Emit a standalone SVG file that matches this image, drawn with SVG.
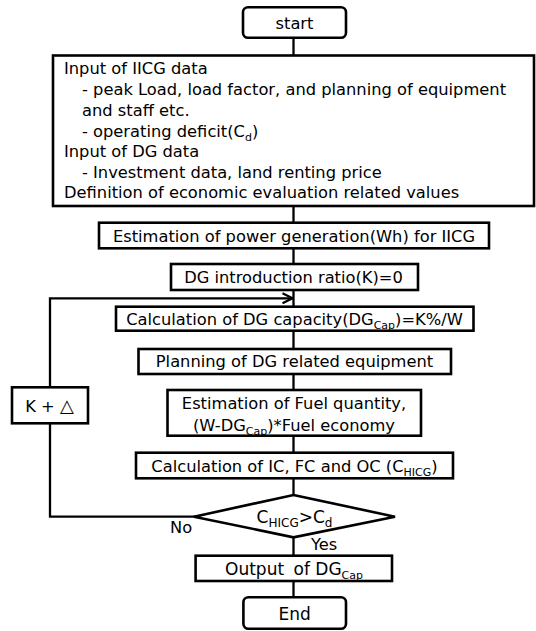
<svg xmlns="http://www.w3.org/2000/svg" width="536" height="631" viewBox="0 0 536 631">
<defs>
<style>
text{font-family:"DejaVu Sans","Liberation Sans",sans-serif;font-size:16.3px;fill:#000}
.c{text-anchor:middle}
.box{fill:#fff;stroke:#000;stroke-width:2.6}
.ln{fill:none;stroke:#000;stroke-width:2.3}
.sub{font-size:11px}
.big{font-size:17px}
.bsub{font-size:12px}
</style>
<marker id="arr" viewBox="0 0 12 12" refX="11" refY="6" markerWidth="12" markerHeight="12" markerUnits="userSpaceOnUse" orient="auto">
<path d="M1,1 L11,6 L1,11" fill="none" stroke="#000" stroke-width="2.2"/>
</marker>
</defs>
<rect width="536" height="631" fill="#fff"/>
<g id="connectors">
<line class="ln" x1="293.5" y1="37.7" x2="293.5" y2="55.5"/>
<line class="ln" x1="293.5" y1="206" x2="293.5" y2="222.7"/>
<line class="ln" x1="293.5" y1="248.3" x2="293.5" y2="264"/>
<line class="ln" x1="293.5" y1="290" x2="293.5" y2="306.7"/>
<line class="ln" x1="293.5" y1="330.7" x2="293.5" y2="349"/>
<line class="ln" x1="293.5" y1="374" x2="293.5" y2="390"/>
<line class="ln" x1="293.5" y1="435.7" x2="293.5" y2="452.7"/>
<line class="ln" x1="293.5" y1="478.3" x2="293.5" y2="495"/>
<line class="ln" x1="293.5" y1="537.3" x2="293.5" y2="555.7"/>
<line class="ln" x1="293.5" y1="581" x2="293.5" y2="597.3"/>
<polyline class="ln" points="195,516.7 50,516.7 50,423.3"/>
<polyline class="ln" points="50,387.3 50,298.3 292.5,298.3" marker-end="url(#arr)"/>
<text x="170" y="532.7">No</text>
<text x="311" y="550">Yes</text>
</g>
<g id="start">
<rect class="box" x="243" y="7.3" width="103" height="30.4" rx="5"/>
<text class="c" x="294.5" y="29.3">start</text>
</g>
<g id="input">
<rect class="box" x="53" y="55.5" width="481" height="150.5"/>
<text x="64" y="74">Input of IICG data</text>
<text x="82" y="95">- peak Load, load factor, and planning of equipment</text>
<text x="82" y="115.5">and staff etc.</text>
<text x="82" y="136.5">- operating deficit(C<tspan class="sub" dy="4">d</tspan><tspan dy="-4">)</tspan></text>
<text x="64" y="157">Input of DG data</text>
<text x="82" y="177.7">- Investment data, land renting price</text>
<text x="64" y="198.3">Definition of economic evaluation related values</text>
</g>
<g id="estimation">
<rect class="box" x="99" y="222.7" width="390" height="25.6"/>
<text class="c" x="294" y="241.7">Estimation of power generation(Wh) for IICG</text>
</g>
<g id="ratio">
<rect class="box" x="171" y="264" width="247" height="26"/>
<text class="c" x="293.5" y="282.7">DG introduction ratio(K)=0</text>
</g>
<g id="capacity">
<rect class="box" x="116" y="306.7" width="357.5" height="24"/>
<text class="c" x="294.5" y="325">Calculation of DG capacity(DG<tspan class="sub" dy="4">Cap</tspan><tspan dy="-4">)=K%/W</tspan></text>
</g>
<g id="planning">
<rect class="box" x="138.5" y="349" width="312.5" height="25"/>
<text class="c" x="294.5" y="366.7">Planning of DG related equipment</text>
</g>
<g id="fuel">
<rect class="box" x="167.5" y="390" width="253.5" height="45.7"/>
<text class="c" x="294" y="409">Estimation of Fuel quantity,</text>
<text class="c" x="294" y="430.5">(W-DG<tspan class="sub" dy="4">Cap</tspan><tspan dy="-4">)*Fuel economy</tspan></text>
</g>
<g id="costs">
<rect class="box" x="136" y="452.7" width="317" height="25.6"/>
<text class="c" x="294.5" y="471.7">Calculation of IC, FC and OC (C<tspan class="sub" dy="4">HICG</tspan><tspan dy="-4">)</tspan></text>
</g>
<g id="decision">
<polygon class="box" points="293.5,495 395,516.7 293.5,537.3 194,516.7"/>
<text class="c big" x="294.5" y="523.3">C<tspan class="bsub" dy="4">HICG</tspan><tspan dy="-4">&gt;C</tspan><tspan class="bsub" dy="4">d</tspan></text>
</g>
<g id="k-delta">
<rect class="box" x="12" y="387.3" width="76" height="36"/>
<text class="c" x="49.5" y="412.3">K + <tspan font-size="18px">△</tspan></text>
</g>
<g id="output">
<rect class="box" x="195.6" y="555.7" width="196.4" height="25.3"/>
<text class="c big" x="294" y="575">Output <tspan dx="4">of DG</tspan><tspan class="sub" dy="4">Cap</tspan></text>
</g>
<g id="end">
<rect class="box" x="243.4" y="597.3" width="102.6" height="31.5" rx="5"/>
<text class="c big" x="294.7" y="620">End</text>
</g>
</svg>
